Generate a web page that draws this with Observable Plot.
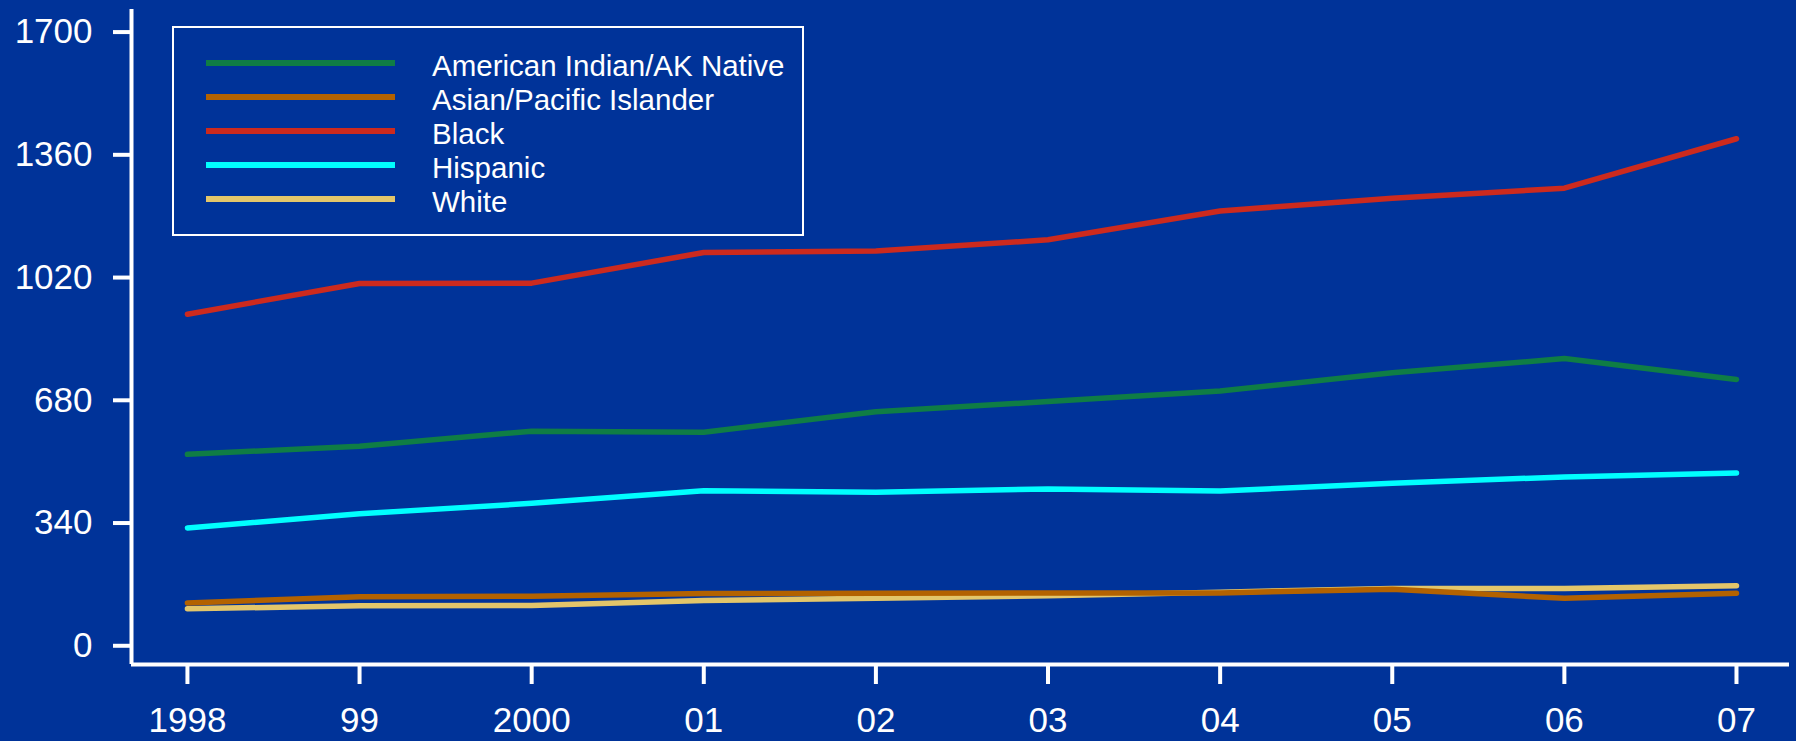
<!DOCTYPE html>
<html>
<head>
<meta charset="utf-8">
<script src="https://cdn.jsdelivr.net/npm/d3@7"></script>
<script src="https://cdn.jsdelivr.net/npm/@observablehq/plot@0.6"></script>
<style>
  html, body { margin: 0; padding: 0; background: #003399; }
  #wrap { position: relative; width: 1796px; height: 741px; background: #003399; overflow: hidden; }
  #chart svg { display: block; }
  #legend { position: absolute; left: 172px; top: 26px; width: 632px; height: 210px;
            box-sizing: border-box; border: 2px solid white; }
  .sw { position: absolute; left: 206px; width: 189px; height: 6px; }
  .lt { position: absolute; left: 432px; font-family: 'Liberation Sans', Arial, sans-serif;
        font-size: 29.5px; line-height: 34px; color: white; white-space: nowrap; }
</style>
</head>
<body>
<div id="wrap">
  <div id="chart"></div>
  <div id="legend"></div>
</div>
<script>
const years = [1998, 1999, 2000, 2001, 2002, 2003, 2004, 2005, 2006, 2007];
const xTickLabels = ["1998", "99", "2000", "01", "02", "03", "04", "05", "06", "07"];
const yTicks = [0, 340, 680, 1020, 1360, 1700];

const seriesNames = ["American Indian/AK Native", "Asian/Pacific Islander", "Black", "Hispanic", "White"];
const seriesColors = ["#0f7d45", "#b36200", "#cc2a1e", "#00ffff", "#e3c66a"];

const amIndian = [525, 547, 589, 586, 643, 671, 700, 751, 790, 732];
const asianPI  = [113, 130, 132, 139, 140, 141, 141, 151, 126, 140];
const black    = [913, 998, 999, 1084, 1088, 1119, 1199, 1234, 1262, 1399];
const hispanic = [321, 360, 389, 424, 420, 429, 423, 445, 462, 473];
const white    = [97, 105, 106, 120, 126, 133, 143, 153, 153, 161];

// drawing order (Asian on top of White)
const drawOrder = [
  ["White", white],
  ["Hispanic", hispanic],
  ["American Indian/AK Native", amIndian],
  ["Black", black],
  ["Asian/Pacific Islander", asianPI]
];
const data = [];
for (const [name, vals] of drawOrder) {
  years.forEach((yr, i) => data.push({year: yr, value: vals[i], series: name}));
}

const xMin = 1997.675, xMax = 2007.308;
const yMin = -57.4, yMax = 1757;

const chart = Plot.plot({
  width: 1796,
  height: 741,
  marginLeft: 131,
  marginRight: 7,
  marginTop: 9,
  marginBottom: 77,
  style: {background: "transparent", color: "white", fontFamily: "'Liberation Sans', Arial, sans-serif", fontSize: "35px", overflow: "visible"},
  x: {domain: [xMin, xMax]},
  y: {domain: [yMin, yMax]},
  color: {domain: seriesNames, range: seriesColors},
  marks: [
    Plot.line(data, {x: "year", y: "value", z: "series", stroke: "series", strokeWidth: 5.5, strokeLinecap: "round", strokeLinejoin: "round"}),
    Plot.ruleX([xMin], {stroke: "white", strokeWidth: 4}),
    Plot.ruleY([yMin], {stroke: "white", strokeWidth: 4}),
    Plot.axisY(yTicks, {anchor: "left", tickSize: 18, tickPadding: 21, strokeWidth: 4, fontSize: 35, dy: 2, label: null, tickFormat: d => String(d)}),
    Plot.axisX(years, {anchor: "bottom", tickSize: 20, tickPadding: 23, strokeWidth: 4, fontSize: 35, label: null, tickFormat: d => xTickLabels[years.indexOf(d)]})
  ]
});
document.getElementById("chart").appendChild(chart);

// legend
const wrap = document.getElementById("wrap");
seriesNames.forEach((name, i) => {
  const baseline = 76 + i * 34;
  const sw = document.createElement("div");
  sw.className = "sw";
  sw.style.background = seriesColors[i];
  sw.style.top = (baseline - 12.7 - 3) + "px";
  wrap.appendChild(sw);
  const t = document.createElement("div");
  t.className = "lt";
  t.textContent = name;
  t.style.top = (baseline - 27.2) + "px";
  wrap.appendChild(t);
});
</script>
</body>
</html>
